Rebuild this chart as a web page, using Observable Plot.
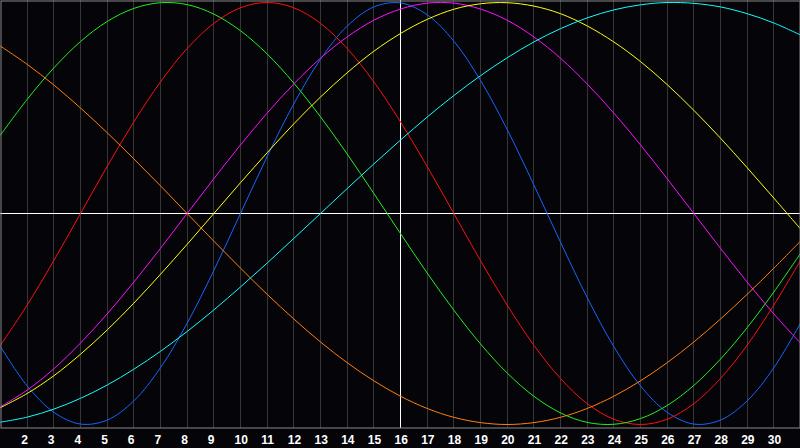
<!DOCTYPE html>
<html><head><meta charset="utf-8">
<script src="https://cdn.jsdelivr.net/npm/d3@7"></script>
<script src="https://cdn.jsdelivr.net/npm/@observablehq/plot@0.6"></script>
<style>html,body{margin:0;padding:0;background:#050409;overflow:hidden;} #chart{width:800px;height:448px;}</style>
</head><body><div id="chart"></div>
<script>
const days = [1,2,3,4,5,6,7,8,9,10,11,12,13,14,15,16,17,18,19,20,21,22,23,24,25,26,27,28,29,30,31];
const tickDays = [2,3,4,5,6,7,8,9,10,11,12,13,14,15,16,17,18,19,20,21,22,23,24,25,26,27,28,29,30];
const today = 16;

const physical = [-0.631,-0.817,-0.942,-0.998,-0.979,-0.888,-0.731,-0.520,-0.270,0,0.270,0.520,0.731,0.888,0.979,0.998,0.942,0.817,0.631,0.398,0.136,-0.136,-0.398,-0.631,-0.817,-0.942,-0.998,-0.979,-0.888,-0.731,-0.520];
const emotional = [-0.624,-0.434,-0.223,0,0.223,0.434,0.624,0.782,0.901,0.975,1,0.975,0.901,0.782,0.624,0.434,0.223,0,-0.223,-0.434,-0.624,-0.782,-0.901,-0.975,-1,-0.975,-0.901,-0.782,-0.624,-0.434,-0.223];
const intellectual = [0.372,0.541,0.690,0.815,0.910,0.972,0.999,0.990,0.945,0.866,0.756,0.618,0.458,0.282,0.095,-0.095,-0.282,-0.458,-0.618,-0.756,-0.866,-0.945,-0.990,-0.999,-0.972,-0.910,-0.815,-0.690,-0.541,-0.372,-0.189];
const intuitive = [-0.916,-0.837,-0.736,-0.614,-0.476,-0.325,-0.165,0,0.165,0.325,0.476,0.614,0.736,0.837,0.916,0.969,0.997,0.997,0.969,0.916,0.837,0.736,0.614,0.476,0.325,0.165,0,-0.165,-0.325,-0.476,-0.614];
const aesthetic = [-0.920,-0.853,-0.769,-0.667,-0.552,-0.425,-0.288,-0.146,0,0.146,0.288,0.425,0.552,0.667,0.769,0.853,0.920,0.968,0.994,0.999,0.983,0.947,0.889,0.813,0.720,0.611,0.489,0.357,0.217,0.073,-0.073];
const awareness = [0.793,0.707,0.609,0.500,0.383,0.259,0.131,0,-0.131,-0.259,-0.383,-0.500,-0.609,-0.707,-0.793,-0.866,-0.924,-0.966,-0.991,-1,-0.991,-0.966,-0.924,-0.866,-0.793,-0.707,-0.609,-0.500,-0.383,-0.259,-0.131];
const spiritual = [-0.989,-0.965,-0.927,-0.876,-0.813,-0.738,-0.653,-0.559,-0.457,-0.348,-0.235,-0.118,0,0.118,0.235,0.348,0.457,0.559,0.653,0.738,0.813,0.876,0.927,0.965,0.989,1.000,0.996,0.979,0.947,0.903,0.846];

const seriesNames = ["physical","emotional","intellectual","intuitive","aesthetic","awareness","spiritual"];
const seriesColors = ["#1466ff","#ff1010","#20f020","#ff10ff","#ffff10","#ff8010","#10ffff"];
const seriesValues = [physical, emotional, intellectual, intuitive, aesthetic, awareness, spiritual];

const rows = [];
seriesNames.forEach((name, i) => {
  days.forEach((d, j) => rows.push({series: name, day: d, value: seriesValues[i][j]}));
});

const chart = Plot.plot({
  width: 800,
  height: 448,
  marginTop: 0,
  marginBottom: 20,
  marginLeft: 0,
  marginRight: 0,
  style: {background: "#050409", color: "white", overflow: "visible"},
  x: {domain: [1, 31]},
  y: {domain: [-1, 1], range: [424, 2], axis: null},
  color: {domain: seriesNames, range: seriesColors},
  marks: [
    Plot.ruleX(tickDays, {stroke: "#363636", strokeOpacity: 1, shapeRendering: "crispEdges"}),
    Plot.ruleY([0], {stroke: "white", strokeOpacity: 1, shapeRendering: "crispEdges"}),
    Plot.ruleX([today], {stroke: "white", strokeOpacity: 1, shapeRendering: "crispEdges"}),
    Plot.line(rows, {x: "day", y: "value", z: "series", stroke: "series", curve: "catmull-rom", strokeWidth: 1}),
    Plot.frame({stroke: "#8a8a8a", strokeOpacity: 1, inset: 0.5}),
    Plot.axisX({ticks: tickDays, tickSize: 0, tickPadding: 7, fontSize: 12, fontWeight: "bold", fill: "white", fontFamily: "Liberation Sans", textAnchor: "start", dx: -6, label: null, tickFormat: d => String(d)})
  ]
});
document.getElementById("chart").append(chart);
</script>
</body></html>
